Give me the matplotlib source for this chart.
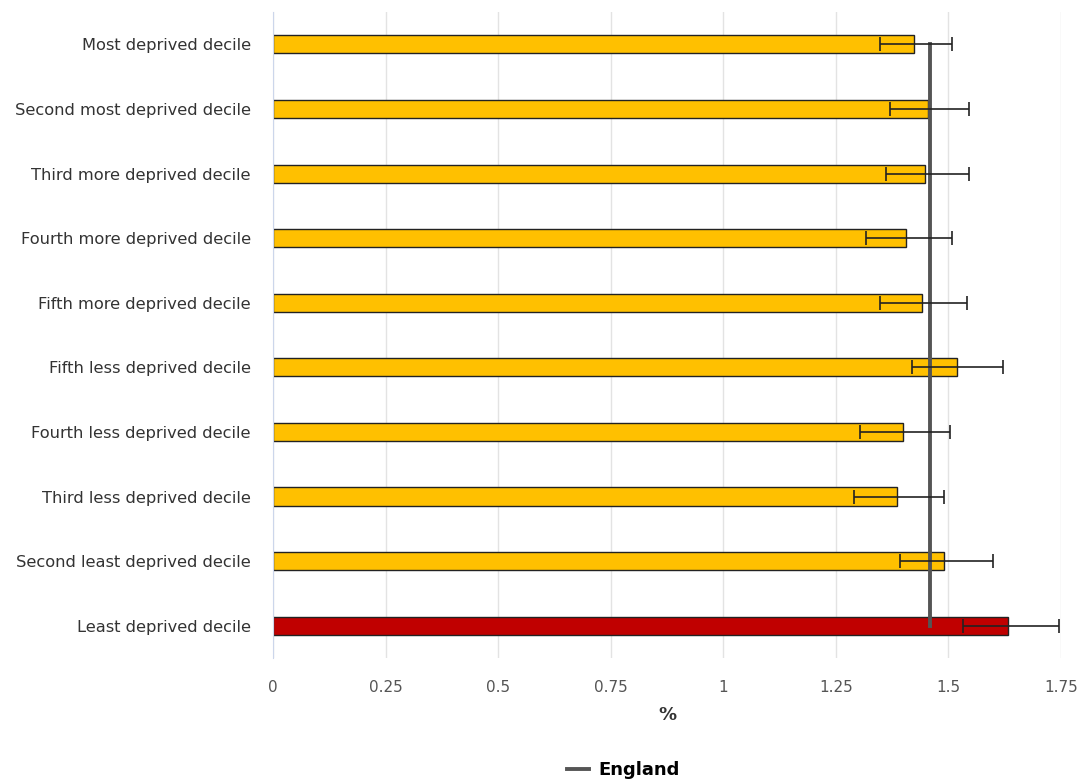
import matplotlib.pyplot as plt
from matplotlib.lines import Line2D

deciles = ['Most deprived decile', 'Second most deprived decile', 'Third more deprived decile',
           'Fourth more deprived decile', 'Fifth more deprived decile', 'Fifth less deprived decile',
           'Fourth less deprived decile', 'Third less deprived decile', 'Second least deprived decile',
           'Least deprived decile']
value = [1.424, 1.455, 1.448, 1.406, 1.441, 1.518, 1.398, 1.385, 1.490, 1.633]
lower = [1.347, 1.371, 1.361, 1.318, 1.347, 1.420, 1.304, 1.290, 1.392, 1.532]
upper = [1.507, 1.546, 1.546, 1.507, 1.541, 1.622, 1.504, 1.490, 1.598, 1.745]
england = 1.46

colours = ['#FFC000'] * 9 + ['#C00000']

fig = plt.figure(figsize=(10.84, 7.83), dpi=100)
ax = fig.add_axes([0.2518, 0.1596, 0.727, 0.825])

y = list(range(len(deciles)))
ax.barh(y, value, height=0.28, color=colours, edgecolor='#222222', linewidth=1, zorder=2)
xerr = [[v - l for v, l in zip(value, lower)], [u - v for v, u in zip(value, upper)]]
ax.errorbar(value, y, xerr=xerr, fmt='none', ecolor='#222222', elinewidth=1.2,
            capsize=5, capthick=1.2, zorder=4)
ax.plot([england, england], [y[0], y[-1]], color='#555555', lw=2.8, zorder=3)

ax.set_ylim(len(deciles) - 0.5, -0.5)
ax.set_xlim(0, 1.75)
ax.set_yticks(y)
ax.set_yticklabels(deciles, fontsize=11.7, color='#333333')
ax.tick_params(axis='y', length=0, pad=16)
ticks = [0, 0.25, 0.5, 0.75, 1, 1.25, 1.5, 1.75]
ax.set_xticks(ticks)
ax.set_xticklabels(['0', '0.25', '0.5', '0.75', '1', '1.25', '1.5', '1.75'],
                   fontsize=11, color='#555555')
ax.tick_params(axis='x', length=0, pad=16)
ax.grid(axis='x', color='#e3e3e3', lw=1, zorder=0)
ax.set_axisbelow(True)
for s in ['top', 'right', 'bottom']:
    ax.spines[s].set_visible(False)
ax.spines['left'].set_color('#ccd6eb')
ax.set_xlabel('%', fontsize=13, color='#333333', fontweight='bold', labelpad=8)

handle = Line2D([], [], color='#555555', lw=2.8)
fig.legend([handle], ['England'], loc='center', bbox_to_anchor=(0.575, 0.016), frameon=False,
           handlelength=1.2, handletextpad=0.5,
           prop={'weight': 'bold', 'size': 13})

fig.savefig('out.png', dpi=100)
